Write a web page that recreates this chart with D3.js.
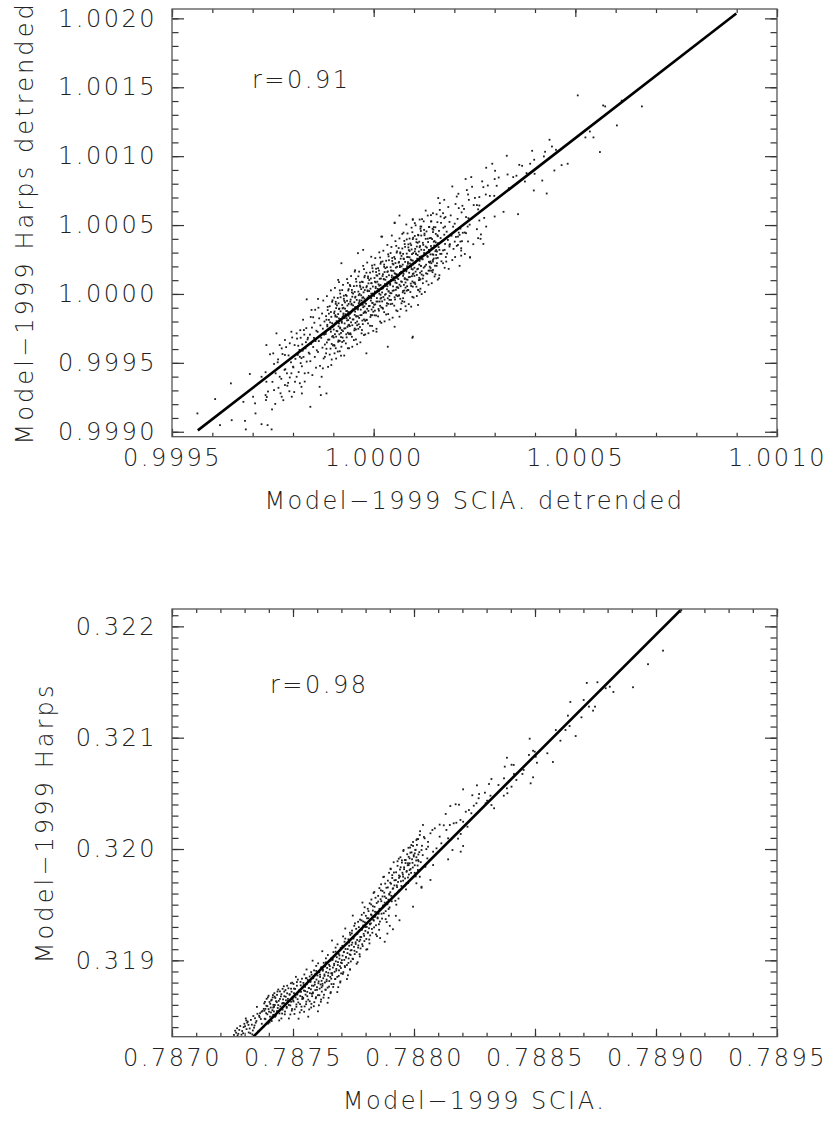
<!DOCTYPE html>
<html>
<head>
<meta charset="utf-8">
<script src="https://cdn.jsdelivr.net/npm/d3@7"></script>
<style>
  body { margin: 0; background: #fff; }
  svg text { font-family: "DejaVu Sans", sans-serif; font-weight: 200; font-size: 24px; fill: #222; letter-spacing: 2.5px; }
  svg text.ytitle { letter-spacing: 3.1px; }
</style>
</head>
<body>
<svg id="chart" width="829" height="1122"></svg>
<script>
// ---- upper panel: detrended ratios (SCIA. on x, Harps on y) ----
const detrendedPoints = [
  // sparse upper tail
  [1.000506,1.001441],[1.000569,1.001368],[1.000574,1.001361],[1.000615,1.001403],[1.000665,1.001361],[1.000603,1.001223],[1.000536,1.001179],[1.000525,1.001136],[1.000545,1.001136],[1.000561,1.00103],
  [1.000436,1.001119],[1.000442,1.00107],[1.000452,1.001046],[1.000393,1.001039],[1.000425,1.001032],[1.000422,1.000998],[1.00033,1.001003],[1.000398,1.000974],[1.000388,1.000945],[1.000361,1.000937],
  [1.000368,1.00093],[1.000481,1.000945],[1.000466,1.000935],[1.000448,1.000896],[1.000279,1.000916],[1.000301,1.000894],[1.000294,1.000945],[1.000399,1.000872],[1.000379,1.000877],[1.000354,1.000858],
  [1.000346,1.000848],[1.000332,1.000867],[1.00031,1.000845],[1.0003,1.000834],[1.000242,1.000848],[1.000228,1.000834],[1.000375,1.000816],[1.000418,1.000823],[1.000283,1.000787],[1.000305,1.000785],
  [1.000272,1.000775],[1.000335,1.000768],[1.000195,1.00078],[1.000397,1.000751],[1.000429,1.000729],[1.00021,1.000727],[1.000206,1.000707],[1.000234,1.000722],[1.000262,1.000703],[1.000288,1.000712],
  [1.000299,1.000712],[1.00016,1.000696],[1.000175,1.000683],[1.000164,1.000659],[1.000248,1.000645],[1.000256,1.000645],[1.00022,1.00064],[1.000211,1.000623],[1.000322,1.000596],[1.000358,1.000579],
  [1.0003,1.000562],[1.000129,1.000605],[1.000142,1.000572],[1.000147,1.000586],[1.000172,1.000586],[1.000175,1.00055],[1.000166,1.000562],[1.000064,1.000569],[1.000097,1.000543],[1.00012,1.000543],
  [1.000235,1.00055],[1.000262,1.000533],[1.000279,1.000489],[1.000052,1.000518],[1.000081,1.000504],[1.000102,1.000514],[1.000116,1.000489],[1.000125,1.000465],[1.000149,1.000485],[1.000177,1.000489],
  [1.000204,1.000465],[1.000233,1.000489],[1.000259,1.000405],[1.000272,1.000363],[1.000215,1.00038],[1.000226,1.000446],[1.000209,1.000416],[1.000021,1.000416],[1.000045,1.000424],[1.000071,1.000436],
  [1.000089,1.000402],[1.00011,1.000429],[1.000139,1.000405],[1.000159,1.000368],[1.000188,1.000356],[1.000217,1.000278],[1.000239,1.000264],[1.000176,1.00032],[1.000168,1.000291],[1.000143,1.000223],
  [1.000265,1.0004],[1.000239,1.000267],[1.000217,1.000332],[1.000209,1.000356],[1.000229,1.000441],[1.000213,1.000429],[1.00018,1.000235],[1.000172,1.000223],[1.000162,1.000114],[1.000147,1.000174],
  [1.000114,1.000017],[1.00011,0.99992],[1.000093,0.999908],[1.000081,0.999879],[1.000064,0.999835],[1.000096,0.999682],[1.000073,0.999969],[1.000069,0.999932],[1.000114,1.000102],[1.00013,1.00015],
  [1.000139,1.000198],[1.000122,1.000078],[1.000097,1.000053],[1.000085,1.000029],[1.000077,1.000005],[1.000147,1.000247],[1.000155,1.000283],[1.000163,1.00032],[1.000188,1.000344],[1.000201,1.00038],
  // lower-left tail
  [0.999563,0.999133],[0.999607,0.999237],[0.999619,0.999048],[0.999648,0.999084],[0.999646,0.999351],[0.999681,0.999079],[0.999693,0.999419],[0.999677,0.999217],[0.999706,0.999206],[0.999707,0.999133],
  [0.999722,0.999055],[0.999737,0.999048],[0.999747,0.999017],[0.999683,0.999017],[0.999701,0.999254],[0.999734,0.999363],[0.999722,0.999399],[0.999732,0.999266],[0.999733,0.99923],[0.999748,0.999162],
  [0.999753,0.999302],[0.999757,0.999424],[0.999734,0.999629],[0.999759,0.999714],[0.999751,0.999569],[0.999763,0.999525],[0.999772,0.999605],[0.99978,0.999666],[0.99978,0.999557],[0.999767,0.999399],
  [0.999772,0.999254],[0.99978,0.999339],[0.999788,0.999355],[0.999796,0.999424],[0.9998,0.999472],[0.999805,0.999363],[0.999792,0.999642],[0.999796,0.999726],[0.999809,0.999714],[0.999813,0.999624],
  [0.999819,0.999682],[0.999827,0.999738],[0.999817,0.999544],[0.999821,0.999326],[0.999822,0.999278],[0.999829,0.999424],[0.999843,0.999181],[0.999834,0.999961],[0.999846,0.999884],[0.99985,0.999831],
  [0.999862,0.999964],[0.999866,0.999326],[0.999871,0.999399],[0.999869,0.999266],[0.999883,0.999278],[0.999874,0.99946],[0.999879,0.999544],[0.999895,0.999484],[0.999903,0.999569],[0.99992,0.999617],
  [0.999912,1.000102],[0.99992,1.000223],[0.999961,1.000296],[0.999974,1.00032],[0.999953,1.000162],[0.999941,1.000065],[0.999982,0.999569],[0.99997,0.999714],[1.000007,0.999726],[1.000035,0.999617],
  [1.000052,0.999762],[1.000097,0.99969],[1.00011,1.000029],[1.000019,1.000416],[1.000052,1.000514],[1.000097,1.000538],[1.000118,1.000489],
  [0.999797,0.999254],[0.999786,0.999334],[0.999792,0.999394],[0.999781,0.999454],[0.999795,0.999504],[0.999789,0.999554],[0.999783,0.999614],[0.999798,0.999684],[0.999791,0.999294],[0.999785,0.999424],
  [0.999776,0.999229],[0.999764,0.999319],[0.999771,0.999384],[0.999779,0.999449],[0.999762,0.999504],[0.999774,0.999564],[0.999767,0.999629],[0.999769,0.999279],
  [0.999756,0.999202],[0.999738,0.999292],[0.999749,0.999362],[0.999732,0.999432],[0.999753,0.999492],[0.999743,0.999562],[0.999735,0.999252],
  // main cloud
  [0.999803,0.999288],[0.999817,0.999352],[0.999809,0.999399],[0.999814,0.999433],[0.999801,0.999467],[0.999819,0.999498],[0.999806,0.999529],[0.999812,0.999558],[0.999816,0.999594],[0.999804,0.999629],[0.99981,0.999676],[0.999818,0.999737],
  [0.999829,0.999364],[0.999838,0.999428],[0.999822,0.999475],[0.999834,0.999509],[0.999826,0.999543],[0.999839,0.999574],[0.999831,0.999605],[0.999823,0.999634],[0.999836,0.99967],[0.999828,0.999705],[0.999833,0.999752],[0.999825,0.999813],
  [0.999837,0.999682],[0.999824,0.999588],[0.999832,0.99965],[0.999821,0.999534],
  [0.999848,0.999411],[0.999857,0.999465],[0.999843,0.999512],[0.999854,0.999543],[0.999841,0.999566],[0.999859,0.999591],[0.99985,0.999615],[0.999845,0.999638],[0.999856,0.999658],[0.999852,0.999681],[0.999842,0.999705],[0.999858,0.999733],[0.999847,0.999756],[0.999853,0.999791],[0.999844,0.999833],[0.999855,0.999885],
  [0.999867,0.999478],[0.999876,0.999532],[0.999862,0.999579],[0.999873,0.99961],[0.999879,0.999633],[0.999864,0.999658],[0.99987,0.999682],[0.999877,0.999705],[0.999861,0.999725],[0.999874,0.999748],[0.999868,0.999772],[0.999878,0.9998],[0.999865,0.999823],[0.999872,0.999858],[0.999863,0.9999],[0.999875,0.999952],
  [0.999887,0.999471],[0.999896,0.999524],[0.999882,0.999569],[0.999893,0.999603],[0.999899,0.999627],[0.999884,0.999648],[0.99989,0.999669],[0.999897,0.99969],[0.999881,0.999709],[0.999894,0.999726],[0.999888,0.999742],[0.999898,0.999759],[0.999885,0.999776],[0.999892,0.999794],[0.999883,0.999813],[0.999895,0.999834],[0.999889,0.999857],[0.999886,0.999883],[0.999891,0.999911],[0.999897,0.999943],[0.999884,0.999984],[0.999894,1.000026],
  [0.999907,0.999531],[0.999916,0.999584],[0.999902,0.999629],[0.999913,0.999663],[0.999919,0.999687],[0.999904,0.999708],[0.99991,0.999729],[0.999917,0.99975],[0.999901,0.999769],[0.999914,0.999786],[0.999908,0.999802],[0.999918,0.999819],[0.999905,0.999836],[0.999912,0.999854],[0.999903,0.999873],[0.999915,0.999894],[0.999909,0.999917],[0.999906,0.999943],[0.999911,0.999971],[0.999917,1.000003],[0.999904,1.000044],[0.999914,1.000086],
  [0.999919,0.999552],[0.999906,0.999606],[0.999912,0.999653],[0.999901,0.999684],[0.999915,0.999707],[0.999908,0.999732],[0.999917,0.999756],[0.999903,0.999779],[0.99991,0.999799],[0.999914,0.999822],[0.999905,0.999846],[0.999918,0.999874],[0.999907,0.999897],[0.999913,0.999932],[0.999902,0.999974],[0.999916,1.000026],
  [0.999927,0.999553],[0.999936,0.999606],[0.999922,0.999651],[0.999933,0.999685],[0.999939,0.999709],[0.999924,0.99973],[0.99993,0.999751],[0.999937,0.999772],[0.999921,0.999791],[0.999934,0.999808],[0.999928,0.999824],[0.999938,0.999841],[0.999925,0.999858],[0.999932,0.999876],[0.999923,0.999895],[0.999935,0.999916],[0.999929,0.999939],[0.999926,0.999965],[0.999931,0.999993],[0.999937,1.000025],[0.999924,1.000066],[0.999934,1.000108],
  [0.999939,0.999606],[0.999926,0.99966],[0.999932,0.999707],[0.999921,0.999738],[0.999935,0.999761],[0.999928,0.999786],[0.999937,0.99981],[0.999923,0.999833],[0.99993,0.999853],[0.999934,0.999876],[0.999925,0.9999],[0.999938,0.999928],[0.999927,0.999951],[0.999933,0.999986],[0.999922,1.000028],[0.999936,1.00008],
  [0.999947,0.999617],[0.999956,0.99967],[0.999942,0.999715],[0.999953,0.999749],[0.999959,0.999773],[0.999944,0.999794],[0.99995,0.999815],[0.999957,0.999836],[0.999941,0.999855],[0.999954,0.999872],[0.999948,0.999888],[0.999958,0.999905],[0.999945,0.999922],[0.999952,0.99994],[0.999943,0.999959],[0.999955,0.99998],[0.999949,1.000003],[0.999946,1.000029],[0.999951,1.000057],[0.999957,1.000089],[0.999944,1.00013],[0.999954,1.000172],
  [0.999959,0.999635],[0.999946,0.999689],[0.999952,0.999736],[0.999941,0.999767],[0.999955,0.99979],[0.999948,0.999815],[0.999957,0.999839],[0.999943,0.999862],[0.99995,0.999882],[0.999954,0.999905],[0.999945,0.999929],[0.999958,0.999957],[0.999947,0.99998],[0.999953,1.000015],[0.999942,1.000057],[0.999956,1.000109],
  [0.999967,0.999649],[0.999976,0.999702],[0.999962,0.999747],[0.999973,0.999781],[0.999979,0.999805],[0.999964,0.999826],[0.99997,0.999847],[0.999977,0.999868],[0.999961,0.999887],[0.999974,0.999904],[0.999968,0.99992],[0.999978,0.999937],[0.999965,0.999954],[0.999972,0.999972],[0.999963,0.999991],[0.999975,1.000012],[0.999969,1.000035],[0.999966,1.000061],[0.999971,1.000089],[0.999977,1.000121],[0.999964,1.000162],[0.999974,1.000204],
  [0.999979,0.999706],[0.999966,0.99976],[0.999972,0.999807],[0.999961,0.999838],[0.999975,0.999861],[0.999968,0.999886],[0.999977,0.99991],[0.999963,0.999933],[0.99997,0.999953],[0.999974,0.999976],[0.999965,1.0],[0.999978,1.000028],[0.999967,1.000051],[0.999973,1.000086],[0.999962,1.000128],[0.999976,1.00018],
  [0.999987,0.999715],[0.999996,0.999768],[0.999982,0.999813],[0.999993,0.999847],[0.999999,0.999871],[0.999984,0.999892],[0.99999,0.999913],[0.999997,0.999934],[0.999981,0.999953],[0.999994,0.99997],[0.999988,0.999986],[0.999998,1.000003],[0.999985,1.00002],[0.999992,1.000038],[0.999983,1.000057],[0.999995,1.000078],[0.999989,1.000101],[0.999986,1.000127],[0.999991,1.000155],[0.999997,1.000187],[0.999984,1.000228],[0.999994,1.00027],
  [0.999999,0.999732],[0.999986,0.999786],[0.999992,0.999833],[0.999981,0.999864],[0.999995,0.999887],[0.999988,0.999912],[0.999997,0.999936],[0.999983,0.999959],[0.99999,0.999979],[0.999994,1.000002],[0.999985,1.000026],[0.999998,1.000054],[0.999987,1.000077],[0.999993,1.000112],[0.999982,1.000154],[0.999996,1.000206],
  [1.000007,0.999747],[1.000016,0.9998],[1.000002,0.999845],[1.000013,0.999879],[1.000019,0.999903],[1.000004,0.999924],[1.00001,0.999945],[1.000017,0.999966],[1.000001,0.999985],[1.000014,1.000002],[1.000008,1.000018],[1.000018,1.000035],[1.000005,1.000052],[1.000012,1.00007],[1.000003,1.000089],[1.000015,1.00011],[1.000009,1.000133],[1.000006,1.000159],[1.000011,1.000187],[1.000017,1.000219],[1.000004,1.00026],[1.000014,1.000302],
  [1.000019,0.99979],[1.000006,0.999844],[1.000012,0.999891],[1.000001,0.999922],[1.000015,0.999945],[1.000008,0.99997],[1.000017,0.999994],[1.000003,1.000017],[1.00001,1.000037],[1.000014,1.00006],[1.000005,1.000084],[1.000018,1.000112],[1.000007,1.000135],[1.000013,1.00017],[1.000002,1.000212],[1.000016,1.000264],
  [1.000027,0.999801],[1.000036,0.999854],[1.000022,0.999899],[1.000033,0.999933],[1.000039,0.999957],[1.000024,0.999978],[1.00003,0.999999],[1.000037,1.00002],[1.000021,1.000039],[1.000034,1.000056],[1.000028,1.000072],[1.000038,1.000089],[1.000025,1.000106],[1.000032,1.000124],[1.000023,1.000143],[1.000035,1.000164],[1.000029,1.000187],[1.000026,1.000213],[1.000031,1.000241],[1.000037,1.000273],[1.000024,1.000314],[1.000034,1.000356],
  [1.000039,0.999814],[1.000026,0.999868],[1.000032,0.999915],[1.000021,0.999946],[1.000035,0.999969],[1.000028,0.999994],[1.000037,1.000018],[1.000023,1.000041],[1.00003,1.000061],[1.000034,1.000084],[1.000025,1.000108],[1.000038,1.000136],[1.000027,1.000159],[1.000033,1.000194],[1.000022,1.000236],[1.000036,1.000288],
  [1.000047,0.999828],[1.000056,0.999881],[1.000042,0.999926],[1.000053,0.99996],[1.000059,0.999984],[1.000044,1.000005],[1.00005,1.000026],[1.000057,1.000047],[1.000041,1.000066],[1.000054,1.000083],[1.000048,1.000099],[1.000058,1.000116],[1.000045,1.000133],[1.000052,1.000151],[1.000043,1.00017],[1.000055,1.000191],[1.000049,1.000214],[1.000046,1.00024],[1.000051,1.000268],[1.000057,1.0003],[1.000044,1.000341],[1.000054,1.000383],
  [1.000059,0.999875],[1.000046,0.999929],[1.000052,0.999976],[1.000041,1.000007],[1.000055,1.00003],[1.000048,1.000055],[1.000057,1.000079],[1.000043,1.000102],[1.00005,1.000122],[1.000054,1.000145],[1.000045,1.000169],[1.000058,1.000197],[1.000047,1.00022],[1.000053,1.000255],[1.000042,1.000297],[1.000056,1.000349],
  [1.000067,0.99989],[1.000076,0.999943],[1.000062,0.999988],[1.000073,1.000022],[1.000079,1.000046],[1.000064,1.000067],[1.00007,1.000088],[1.000077,1.000109],[1.000061,1.000128],[1.000074,1.000145],[1.000068,1.000161],[1.000078,1.000178],[1.000065,1.000195],[1.000072,1.000213],[1.000063,1.000232],[1.000075,1.000253],[1.000069,1.000276],[1.000066,1.000302],[1.000071,1.00033],[1.000077,1.000362],[1.000064,1.000403],[1.000074,1.000445],
  [1.000079,0.999911],[1.000066,0.999965],[1.000072,1.000012],[1.000061,1.000043],[1.000075,1.000066],[1.000068,1.000091],[1.000077,1.000115],[1.000063,1.000138],[1.00007,1.000158],[1.000074,1.000181],[1.000065,1.000205],[1.000078,1.000233],[1.000067,1.000256],[1.000073,1.000291],[1.000062,1.000333],[1.000076,1.000385],
  [1.000087,0.999926],[1.000096,0.999979],[1.000082,1.000024],[1.000093,1.000058],[1.000099,1.000082],[1.000084,1.000103],[1.00009,1.000124],[1.000097,1.000145],[1.000081,1.000164],[1.000094,1.000181],[1.000088,1.000197],[1.000098,1.000214],[1.000085,1.000231],[1.000092,1.000249],[1.000083,1.000268],[1.000095,1.000289],[1.000089,1.000312],[1.000086,1.000338],[1.000091,1.000366],[1.000097,1.000398],[1.000084,1.000439],[1.000094,1.000481],
  [1.000099,0.999974],[1.000086,1.000028],[1.000092,1.000075],[1.000081,1.000106],[1.000095,1.000129],[1.000088,1.000154],[1.000097,1.000178],[1.000083,1.000201],[1.00009,1.000221],[1.000094,1.000244],[1.000085,1.000268],[1.000098,1.000296],[1.000087,1.000319],[1.000093,1.000354],[1.000082,1.000396],[1.000096,1.000448],
  [1.000107,0.999985],[1.000116,1.000038],[1.000102,1.000083],[1.000113,1.000117],[1.000119,1.000141],[1.000104,1.000162],[1.00011,1.000183],[1.000117,1.000204],[1.000101,1.000223],[1.000114,1.00024],[1.000108,1.000256],[1.000118,1.000273],[1.000105,1.00029],[1.000112,1.000308],[1.000103,1.000327],[1.000115,1.000348],[1.000109,1.000371],[1.000106,1.000397],[1.000111,1.000425],[1.000117,1.000457],[1.000104,1.000498],[1.000114,1.00054],
  [1.000119,0.999999],[1.000106,1.000053],[1.000112,1.0001],[1.000101,1.000131],[1.000115,1.000154],[1.000108,1.000179],[1.000117,1.000203],[1.000103,1.000226],[1.00011,1.000246],[1.000114,1.000269],[1.000105,1.000293],[1.000118,1.000321],[1.000107,1.000344],[1.000113,1.000379],[1.000102,1.000421],[1.000116,1.000473],
  [1.000127,1.000014],[1.000136,1.000067],[1.000122,1.000112],[1.000133,1.000146],[1.000139,1.00017],[1.000124,1.000191],[1.00013,1.000212],[1.000137,1.000233],[1.000121,1.000252],[1.000134,1.000269],[1.000128,1.000285],[1.000138,1.000302],[1.000125,1.000319],[1.000132,1.000337],[1.000123,1.000356],[1.000135,1.000377],[1.000129,1.0004],[1.000126,1.000426],[1.000131,1.000454],[1.000137,1.000486],[1.000124,1.000527],[1.000134,1.000569],
  [1.000159,1.000104],[1.000146,1.000158],[1.000152,1.000205],[1.000141,1.000236],[1.000155,1.000259],[1.000148,1.000284],[1.000157,1.000308],[1.000143,1.000331],[1.00015,1.000351],[1.000154,1.000374],[1.000145,1.000398],[1.000158,1.000426],[1.000147,1.000449],[1.000153,1.000484],[1.000142,1.000526],[1.000156,1.000578],
  [1.000144,1.000078],[1.000153,1.000142],[1.000141,1.000189],[1.000157,1.000223],[1.000149,1.000257],[1.000146,1.000288],[1.000155,1.000319],[1.000142,1.000348],[1.000151,1.000384],[1.000159,1.000419],[1.000148,1.000466],[1.000143,1.000527],
  [1.000163,1.000136],[1.000176,1.00019],[1.000168,1.000237],[1.000179,1.000268],[1.000165,1.000291],[1.000172,1.000316],[1.000161,1.00034],[1.000177,1.000363],[1.00017,1.000383],[1.000166,1.000406],[1.000175,1.00043],[1.000162,1.000458],[1.000173,1.000481],[1.000167,1.000516],[1.000178,1.000558],[1.000164,1.00061],
  [1.000186,1.000182],[1.000195,1.000246],[1.000182,1.000293],[1.000198,1.000327],[1.000189,1.000361],[1.000184,1.000392],[1.000193,1.000423],[1.000181,1.000452],[1.000197,1.000488],[1.000188,1.000523],[1.000191,1.00057],[1.000185,1.000631],
  [1.000213,1.000204],[1.000202,1.000268],[1.000217,1.000315],[1.000206,1.000349],[1.000219,1.000383],[1.000204,1.000414],[1.000211,1.000445],[1.000215,1.000474],[1.000201,1.00051],[1.000208,1.000545],[1.000218,1.000592],[1.000203,1.000653],
  [1.000226,1.00029],[1.000234,1.000381],[1.000221,1.000444],[1.000238,1.000503],[1.000229,1.000558],[1.000224,1.000617],[1.000236,1.000683],[1.000231,1.000754],
  [1.000247,1.000361],[1.000256,1.00047],[1.000242,1.000544],[1.000259,1.000614],[1.000251,1.000697],[1.000244,1.000778],
  [1.000266,1.000432],[1.000274,1.000552],[1.000262,1.000642],[1.000278,1.000722],[1.000269,1.000817],
  // core, second pass
  [0.999891,0.99956],[0.999883,0.999602],[0.999896,0.999637],[0.999887,0.999668],[0.999899,0.999695],[0.999881,0.99972],[0.999893,0.999743],[0.999885,0.999765],[0.999897,0.999788],[0.999889,0.999812],[0.999882,0.999839],[0.999894,0.999869],[0.999886,0.999906],[0.999898,0.999954],
  [0.999911,0.999582],[0.999903,0.999624],[0.999916,0.999659],[0.999907,0.99969],[0.999919,0.999717],[0.999901,0.999742],[0.999913,0.999765],[0.999905,0.999787],[0.999917,0.99981],[0.999909,0.999834],[0.999902,0.999861],[0.999914,0.999891],[0.999906,0.999928],[0.999918,0.999976],
  [0.999931,0.999641],[0.999923,0.999683],[0.999936,0.999718],[0.999927,0.999749],[0.999939,0.999776],[0.999921,0.999801],[0.999933,0.999824],[0.999925,0.999846],[0.999937,0.999869],[0.999929,0.999893],[0.999922,0.99992],[0.999934,0.99995],[0.999926,0.999987],[0.999938,1.000035],
  [0.999951,0.999665],[0.999943,0.999707],[0.999956,0.999742],[0.999947,0.999773],[0.999959,0.9998],[0.999941,0.999825],[0.999953,0.999848],[0.999945,0.99987],[0.999957,0.999893],[0.999949,0.999917],[0.999942,0.999944],[0.999954,0.999974],[0.999946,1.000011],[0.999958,1.000059],
  [0.999971,0.999738],[0.999963,0.99978],[0.999976,0.999815],[0.999967,0.999846],[0.999979,0.999873],[0.999961,0.999898],[0.999973,0.999921],[0.999965,0.999943],[0.999977,0.999966],[0.999969,0.99999],[0.999962,1.000017],[0.999974,1.000047],[0.999966,1.000084],[0.999978,1.000132],
  [0.999991,0.999769],[0.999983,0.999811],[0.999996,0.999846],[0.999987,0.999877],[0.999999,0.999904],[0.999981,0.999929],[0.999993,0.999952],[0.999985,0.999974],[0.999997,0.999997],[0.999989,1.000021],[0.999982,1.000048],[0.999994,1.000078],[0.999986,1.000115],[0.999998,1.000163],
  [1.000011,0.999837],[1.000003,0.999879],[1.000016,0.999914],[1.000007,0.999945],[1.000019,0.999972],[1.000001,0.999997],[1.000013,1.00002],[1.000005,1.000042],[1.000017,1.000065],[1.000009,1.000089],[1.000002,1.000116],[1.000014,1.000146],[1.000006,1.000183],[1.000018,1.000231],
  [1.000031,0.999851],[1.000023,0.999893],[1.000036,0.999928],[1.000027,0.999959],[1.000039,0.999986],[1.000021,1.000011],[1.000033,1.000034],[1.000025,1.000056],[1.000037,1.000079],[1.000029,1.000103],[1.000022,1.00013],[1.000034,1.00016],[1.000026,1.000197],[1.000038,1.000245],
  [1.000051,0.999915],[1.000043,0.999957],[1.000056,0.999992],[1.000047,1.000023],[1.000059,1.00005],[1.000041,1.000075],[1.000053,1.000098],[1.000045,1.00012],[1.000057,1.000143],[1.000049,1.000167],[1.000042,1.000194],[1.000054,1.000224],[1.000046,1.000261],[1.000058,1.000309],
  [1.000071,0.999948],[1.000063,0.99999],[1.000076,1.000025],[1.000067,1.000056],[1.000079,1.000083],[1.000061,1.000108],[1.000073,1.000131],[1.000065,1.000153],[1.000077,1.000176],[1.000069,1.0002],[1.000062,1.000227],[1.000074,1.000257],[1.000066,1.000294],[1.000078,1.000342],
  [1.000091,1.000014],[1.000083,1.000056],[1.000096,1.000091],[1.000087,1.000122],[1.000099,1.000149],[1.000081,1.000174],[1.000093,1.000197],[1.000085,1.000219],[1.000097,1.000242],[1.000089,1.000266],[1.000082,1.000293],[1.000094,1.000323],[1.000086,1.00036],[1.000098,1.000408],
  [1.000111,1.00003],[1.000103,1.000072],[1.000116,1.000107],[1.000107,1.000138],[1.000119,1.000165],[1.000101,1.00019],[1.000113,1.000213],[1.000105,1.000235],[1.000117,1.000258],[1.000109,1.000282],[1.000102,1.000309],[1.000114,1.000339],[1.000106,1.000376],[1.000118,1.000424],
  [1.000131,1.000092],[1.000123,1.000134],[1.000136,1.000169],[1.000127,1.0002],[1.000139,1.000227],[1.000121,1.000252],[1.000133,1.000275],[1.000125,1.000297],[1.000137,1.00032],[1.000129,1.000344],[1.000122,1.000371],[1.000134,1.000401],[1.000126,1.000438],[1.000138,1.000486],
  [1.000151,1.000127],[1.000143,1.000169],[1.000156,1.000204],[1.000147,1.000235],[1.000159,1.000262],[1.000141,1.000287],[1.000153,1.00031],[1.000145,1.000332],[1.000157,1.000355],[1.000149,1.000379],[1.000142,1.000406],[1.000154,1.000436],[1.000146,1.000473],[1.000158,1.000521]
];
const detrendedFit = [[0.999564, 0.99901], [1.000899, 1.002035]];
const detrendedXTicks = [0.9995, 1.0000, 1.0005, 1.0010];
const detrendedYTicks = [0.9990, 0.9995, 1.0000, 1.0005, 1.0010, 1.0015, 1.0020];

// ---- lower panel: raw ratios ----
const rawPoints = [
  [0.787265,0.31835],[0.787274,0.31834],[0.787282,0.31841],[0.78729,0.318365],[0.787296,0.3184],[0.787278,0.318375],[0.787269,0.31839],
  [0.787256,0.31833],[0.787261,0.318368],[0.787271,0.318325],[0.787287,0.318332],[0.787294,0.318345],[0.787299,0.31843],[0.787308,0.318382],[0.787316,0.31842],[0.787326,0.318465],[0.787332,0.318335],
  [0.787324,0.318345],[0.787302,0.318408],[0.787334,0.31837],[0.787311,0.31844],[0.787339,0.318395],[0.787307,0.31846],[0.787317,0.318352],[0.78733,0.318422],[0.787305,0.318478],[0.787321,0.318388],[0.787313,0.31845],[0.787336,0.3185],
  [0.787356,0.31836],[0.787371,0.31843],[0.787343,0.31848],[0.787364,0.318525],[0.787377,0.3184],[0.787349,0.318455],[0.78736,0.318502],[0.787374,0.318545],[0.787341,0.318415],[0.787367,0.318473],[0.787353,0.31852],[0.787379,0.318564],[0.787346,0.31844],[0.787362,0.31849],[0.78737,0.318538],[0.787351,0.318582],
  [0.787397,0.318432],[0.787412,0.318455],[0.787383,0.318476],[0.787405,0.318494],[0.787418,0.31851],[0.787389,0.318525],[0.787401,0.318539],[0.787415,0.318552],[0.787386,0.318564],[0.787408,0.318576],[0.787394,0.318588],[0.787419,0.3186],[0.787381,0.318613],[0.787403,0.318626],[0.78741,0.31864],[0.787391,0.318654],[0.787416,0.318667],[0.787399,0.318682],
  [0.787452,0.318478],[0.787429,0.318502],[0.787444,0.318523],[0.787421,0.318541],[0.787457,0.318557],[0.787437,0.318572],[0.787448,0.318586],[0.787425,0.318599],[0.787455,0.318612],[0.787433,0.318624],[0.787441,0.318636],[0.787459,0.318649],[0.787427,0.318662],[0.78745,0.318676],[0.787434,0.31869],[0.787423,0.318705],[0.787446,0.318721],[0.787439,0.318738],
  [0.787489,0.318514],[0.787467,0.31854],[0.787496,0.318563],[0.787474,0.318582],[0.787483,0.318599],[0.787461,0.318614],[0.787492,0.318628],[0.787471,0.318641],[0.787479,0.318654],[0.787498,0.318666],[0.787464,0.318678],[0.787486,0.318691],[0.787476,0.318704],[0.787494,0.318718],[0.787469,0.318733],[0.787481,0.318749],[0.787462,0.318767],[0.787491,0.318794],
  [0.787528,0.318532],[0.787507,0.31856],[0.787535,0.318584],[0.787514,0.318604],[0.787522,0.318622],[0.787501,0.318638],[0.787538,0.318653],[0.787511,0.318667],[0.78753,0.31868],[0.787518,0.318693],[0.787504,0.318705],[0.787533,0.318717],[0.787525,0.31873],[0.787509,0.318743],[0.787539,0.318757],[0.787516,0.318772],[0.787502,0.318788],[0.787531,0.318806],[0.78752,0.318827],[0.787512,0.318852],
  [0.787567,0.318559],[0.787548,0.318586],[0.787576,0.318609],[0.787555,0.318629],[0.787563,0.318647],[0.787542,0.318663],[0.787579,0.318678],[0.787552,0.318692],[0.78757,0.318705],[0.787559,0.318717],[0.787545,0.318729],[0.787574,0.31874],[0.787565,0.318751],[0.78755,0.318762],[0.787578,0.318773],[0.787557,0.318785],[0.787543,0.318797],[0.787572,0.31881],[0.787561,0.318824],[0.787553,0.318839],[0.787569,0.318855],[0.787547,0.318873],[0.787575,0.318894],[0.787556,0.318918],
  [0.787607,0.318596],[0.787588,0.318624],[0.787616,0.318648],[0.787595,0.318669],[0.787603,0.318687],[0.787582,0.318704],[0.787619,0.318719],[0.787592,0.318733],[0.78761,0.318746],[0.787599,0.318759],[0.787585,0.318771],[0.787614,0.318783],[0.787605,0.318794],[0.78759,0.318805],[0.787618,0.318816],[0.787597,0.318827],[0.787583,0.318839],[0.787612,0.318851],[0.787601,0.318864],[0.787593,0.318878],[0.787609,0.318893],[0.787587,0.31891],[0.787615,0.318929],[0.787596,0.31895],[0.787604,0.318973],[0.787581,0.318997],
  [0.787647,0.318663],[0.787628,0.318691],[0.787656,0.318715],[0.787635,0.318736],[0.787643,0.318755],[0.787622,0.318772],[0.787659,0.318787],[0.787632,0.318801],[0.78765,0.318814],[0.787639,0.318827],[0.787625,0.318839],[0.787654,0.318851],[0.787645,0.318862],[0.78763,0.318873],[0.787658,0.318884],[0.787637,0.318895],[0.787623,0.318907],[0.787652,0.318919],[0.787641,0.318932],[0.787633,0.318946],[0.787649,0.318961],[0.787627,0.318978],[0.787655,0.318997],[0.787636,0.319018],[0.787644,0.319048],[0.787621,0.319082],
  [0.787687,0.318759],[0.787668,0.318787],[0.787696,0.318811],[0.787675,0.318832],[0.787683,0.318851],[0.787662,0.318868],[0.787699,0.318883],[0.787672,0.318897],[0.78769,0.31891],[0.787679,0.318923],[0.787665,0.318935],[0.787694,0.318947],[0.787685,0.318958],[0.78767,0.318969],[0.787698,0.31898],[0.787677,0.318991],[0.787663,0.319003],[0.787692,0.319015],[0.787681,0.319028],[0.787673,0.319042],[0.787689,0.319057],[0.787667,0.319074],[0.787695,0.319093],[0.787676,0.319114],[0.787684,0.319144],[0.787661,0.319178],
  [0.787727,0.318866],[0.787708,0.318894],[0.787736,0.318918],[0.787715,0.318939],[0.787723,0.318958],[0.787702,0.318975],[0.787739,0.31899],[0.787712,0.319004],[0.78773,0.319017],[0.787719,0.31903],[0.787705,0.319042],[0.787734,0.319054],[0.787725,0.319065],[0.78771,0.319077],[0.787738,0.319089],[0.787717,0.319102],[0.787703,0.319116],[0.787732,0.319131],[0.787721,0.319148],[0.787713,0.319167],[0.787729,0.319189],[0.787707,0.319215],[0.787735,0.319248],[0.787716,0.319286],
  [0.787767,0.318983],[0.787748,0.319011],[0.787776,0.319035],[0.787755,0.319056],[0.787763,0.319075],[0.787742,0.319092],[0.787779,0.319107],[0.787752,0.319121],[0.78777,0.319134],[0.787759,0.319147],[0.787745,0.319159],[0.787774,0.319171],[0.787765,0.319183],[0.78775,0.319196],[0.787778,0.31921],[0.787757,0.319225],[0.787743,0.319242],[0.787772,0.319261],[0.787761,0.319283],[0.787753,0.31931],[0.787769,0.319346],[0.787747,0.319402],
  [0.787807,0.3191],[0.787788,0.319128],[0.787816,0.319152],[0.787795,0.319173],[0.787803,0.319192],[0.787782,0.319209],[0.787819,0.319224],[0.787792,0.319238],[0.78781,0.319251],[0.787799,0.319264],[0.787785,0.319276],[0.787814,0.319288],[0.787805,0.3193],[0.78779,0.319313],[0.787818,0.319327],[0.787797,0.319342],[0.787783,0.319359],[0.787812,0.319378],[0.787801,0.3194],[0.787793,0.319427],[0.787809,0.319463],[0.787787,0.319519],
  [0.787847,0.319217],[0.787828,0.319248],[0.787856,0.319274],[0.787835,0.319296],[0.787843,0.319315],[0.787822,0.319332],[0.787859,0.319348],[0.787832,0.319363],[0.78785,0.319377],[0.787839,0.319391],[0.787825,0.319404],[0.787854,0.319418],[0.787845,0.319432],[0.78783,0.319447],[0.787858,0.319463],[0.787837,0.319481],[0.787823,0.319502],[0.787852,0.319528],[0.787841,0.319562],[0.787833,0.319605],
  [0.787887,0.319344],[0.787868,0.319375],[0.787896,0.319401],[0.787875,0.319423],[0.787883,0.319442],[0.787862,0.319459],[0.787899,0.319475],[0.787872,0.31949],[0.78789,0.319504],[0.787879,0.319518],[0.787865,0.319531],[0.787894,0.319545],[0.787885,0.319559],[0.78787,0.319574],[0.787898,0.31959],[0.787877,0.319608],[0.787863,0.319629],[0.787892,0.319655],[0.787881,0.319689],[0.787873,0.319748],
  [0.787927,0.3195],[0.787908,0.31953],[0.787936,0.319555],[0.787915,0.319576],[0.787923,0.319595],[0.787902,0.319612],[0.787939,0.319628],[0.787912,0.319643],[0.78793,0.319658],[0.787919,0.319673],[0.787905,0.319688],[0.787934,0.319704],[0.787925,0.319721],[0.78791,0.31974],[0.787938,0.319762],[0.787917,0.319789],[0.787903,0.319824],[0.787932,0.31989],
  [0.787967,0.319637],[0.787948,0.319668],[0.787976,0.319694],[0.787955,0.319716],[0.787963,0.319736],[0.787942,0.319754],[0.787979,0.319771],[0.787952,0.319787],[0.78797,0.319803],[0.787959,0.319819],[0.787945,0.319836],[0.787974,0.319854],[0.787965,0.319874],[0.78795,0.319898],[0.787978,0.31993],[0.787957,0.319992],
  [0.788007,0.319754],[0.787988,0.319786],[0.788016,0.319812],[0.787995,0.319834],[0.788003,0.319854],[0.787982,0.319872],[0.788019,0.31989],[0.787992,0.319908],[0.78801,0.319926],[0.787999,0.319945],[0.787985,0.319967],[0.788006,0.319993],[0.787996,0.320028],[0.788013,0.32009],
  [0.788047,0.31984],[0.788028,0.319882],[0.788055,0.319916],[0.788036,0.319945],[0.788022,0.319972],[0.788051,0.319999],[0.788033,0.320029],[0.788058,0.320064],[0.788041,0.320108],[0.788025,0.32016],
  [0.787913,0.319279],[0.787879,0.319167],[0.787996,0.319482],[0.788031,0.319652],[0.78794,0.31936],[0.78786,0.3192],[0.7879,0.31931],[0.787925,0.3194],[0.78789,0.31924],
  // band, second pass
  [0.787403,0.318442],[0.787386,0.318471],[0.787415,0.318495],[0.787394,0.318515],[0.787409,0.318532],[0.787382,0.318547],[0.787399,0.318562],[0.787418,0.318576],[0.78739,0.318592],[0.787406,0.318609],[0.787384,0.318627],[0.787412,0.318646],[0.787396,0.318667],[0.787417,0.318688],
  [0.787443,0.31846],[0.787426,0.318493],[0.787455,0.318522],[0.787434,0.318544],[0.787449,0.318564],[0.787422,0.318582],[0.787439,0.318598],[0.787458,0.318615],[0.78743,0.318633],[0.787446,0.318653],[0.787424,0.318674],[0.787452,0.318696],[0.787436,0.31872],[0.787457,0.318744],
  [0.787483,0.318478],[0.787466,0.318515],[0.787495,0.318548],[0.787474,0.318573],[0.787489,0.318595],[0.787462,0.318616],[0.787479,0.318634],[0.787498,0.318653],[0.78747,0.318673],[0.787486,0.318696],[0.787464,0.318719],[0.787492,0.318745],[0.787476,0.318772],[0.787497,0.318799],
  [0.787523,0.318476],[0.787506,0.318518],[0.787535,0.318554],[0.787514,0.318583],[0.787529,0.318607],[0.787502,0.31863],[0.787519,0.318651],[0.787538,0.318672],[0.78751,0.318695],[0.787526,0.31872],[0.787504,0.318746],[0.787532,0.318775],[0.787516,0.318805],[0.787537,0.318835],
  [0.787563,0.318494],[0.787546,0.318538],[0.787575,0.318576],[0.787554,0.318606],[0.787569,0.318632],[0.787542,0.318656],[0.787559,0.318678],[0.787578,0.3187],[0.78755,0.318724],[0.787566,0.31875],[0.787544,0.318778],[0.787572,0.318808],[0.787556,0.31884],[0.787577,0.318872],
  [0.787603,0.318542],[0.787586,0.318588],[0.787615,0.318628],[0.787594,0.318659],[0.787609,0.318687],[0.787582,0.318712],[0.787599,0.318735],[0.787618,0.318758],[0.78759,0.318783],[0.787606,0.318811],[0.787584,0.31884],[0.787612,0.318871],[0.787596,0.318905],[0.787617,0.318939],
  [0.787643,0.318619],[0.787626,0.318665],[0.787655,0.318705],[0.787634,0.318736],[0.787649,0.318764],[0.787622,0.318789],[0.787639,0.318812],[0.787658,0.318835],[0.78763,0.31886],[0.787646,0.318888],[0.787624,0.318917],[0.787652,0.318948],[0.787636,0.318982],[0.787657,0.319016],
  [0.787683,0.318715],[0.787666,0.318761],[0.787695,0.318801],[0.787674,0.318832],[0.787689,0.31886],[0.787662,0.318885],[0.787679,0.318908],[0.787698,0.318931],[0.78767,0.318956],[0.787686,0.318984],[0.787664,0.319013],[0.787692,0.319044],[0.787676,0.319078],[0.787697,0.319112],
  [0.787723,0.318832],[0.787706,0.318878],[0.787735,0.318918],[0.787714,0.318949],[0.787729,0.318977],[0.787702,0.319002],[0.787719,0.319025],[0.787738,0.319048],[0.78771,0.319073],[0.787726,0.319101],[0.787704,0.31913],[0.787732,0.319161],[0.787716,0.319195],[0.787737,0.319229],
  [0.787763,0.318969],[0.787746,0.319015],[0.787775,0.319055],[0.787754,0.319086],[0.787769,0.319114],[0.787742,0.319139],[0.787759,0.319162],[0.787778,0.319185],[0.78775,0.31921],[0.787766,0.319238],[0.787744,0.319267],[0.787772,0.319298],[0.787756,0.319332],[0.787777,0.319366],
  [0.787803,0.319096],[0.787786,0.319145],[0.787815,0.319187],[0.787794,0.31922],[0.787809,0.319248],[0.787782,0.319275],[0.787799,0.319299],[0.787818,0.319323],[0.78779,0.319349],[0.787806,0.319378],[0.787784,0.319409],[0.787812,0.319442],[0.787796,0.319477],[0.787817,0.319512],
  [0.787843,0.319233],[0.787826,0.319282],[0.787855,0.319324],[0.787834,0.319357],[0.787849,0.319385],[0.787822,0.319412],[0.787839,0.319436],[0.787858,0.31946],[0.78783,0.319486],[0.787846,0.319515],[0.787824,0.319546],[0.787852,0.319579],[0.787836,0.319614],[0.787857,0.319649],
  [0.787883,0.31937],[0.787866,0.319419],[0.787895,0.319461],[0.787874,0.319494],[0.787889,0.319522],[0.787862,0.319549],[0.787879,0.319573],[0.787898,0.319597],[0.78787,0.319623],[0.787886,0.319652],[0.787864,0.319683],[0.787892,0.319716],[0.787876,0.319751],[0.787897,0.319786],
  [0.787923,0.319535],[0.787906,0.319579],[0.787935,0.319617],[0.787914,0.319647],[0.787929,0.319673],[0.787902,0.319697],[0.787919,0.319719],[0.787938,0.319741],[0.78791,0.319765],[0.787926,0.319791],[0.787904,0.319819],[0.787932,0.319849],[0.787916,0.319881],[0.787937,0.319913],
  [0.787963,0.319671],[0.787946,0.31971],[0.787975,0.319744],[0.787954,0.319771],[0.787969,0.319795],[0.787942,0.319816],[0.787959,0.319836],[0.787978,0.319856],[0.78795,0.319878],[0.787966,0.319901],[0.787944,0.319926],[0.787972,0.319953],[0.787956,0.319982],[0.787977,0.320011],
  [0.788003,0.319786],[0.787986,0.319821],[0.788015,0.319852],[0.787994,0.319876],[0.788009,0.319897],[0.787982,0.319916],[0.787999,0.319933],[0.788018,0.319951],[0.78799,0.31997],[0.788006,0.319991],[0.787984,0.320013],[0.788012,0.320037],[0.787996,0.320063],[0.788017,0.320089],
  // upper tail
  [0.789029,0.321782],[0.788967,0.32166],[0.788905,0.321453],[0.788824,0.321411],[0.788809,0.321458],[0.788792,0.321444],[0.788758,0.321498],[0.788714,0.321492],[0.788701,0.321339],[0.788646,0.321321],
  [0.788723,0.321279],[0.788748,0.321279],[0.78874,0.321243],[0.788692,0.321183],[0.788636,0.321198],[0.788643,0.321105],[0.788626,0.321069],[0.788586,0.321069],[0.788668,0.321015],[0.788605,0.320973],
  [0.788478,0.320991],[0.788492,0.320883],[0.788499,0.320874],[0.788574,0.320782],[0.788551,0.32086],[0.788508,0.320775],[0.788503,0.320829],[0.788475,0.320845],[0.788384,0.32082],[0.788375,0.32074],
  [0.788403,0.320757],[0.788412,0.320755],[0.788453,0.32071],[0.788448,0.320674],[0.788492,0.320644],[0.788482,0.32059],[0.788413,0.320674],[0.788423,0.32062],[0.788403,0.32056],[0.788384,0.320545],
  [0.788372,0.320635],[0.788349,0.320575],[0.78832,0.320629],[0.78831,0.320584],[0.788269,0.320494],[0.788241,0.320483],[0.788203,0.320536],[0.78826,0.320572],[0.788293,0.320506],[0.788316,0.320479],
  [0.788302,0.320434],[0.788296,0.320411],[0.788267,0.320456],[0.78832,0.320395],[0.788331,0.320366],[0.788371,0.320479],[0.788386,0.320501],[0.788247,0.320389],[0.788258,0.320411],[0.788227,0.32035],
  [0.788237,0.320321],[0.788214,0.320335],[0.788186,0.320398],[0.788172,0.320402],[0.78815,0.320386],[0.788131,0.320315],[0.788203,0.320245],[0.788192,0.320261],[0.788175,0.320236],[0.788164,0.320231],
  [0.788148,0.320216],[0.788123,0.320213],[0.788106,0.320219],[0.788086,0.320186],[0.788076,0.320171],[0.788068,0.320141],[0.788037,0.320216],[0.788024,0.320126],[0.78801,0.320081],[0.788044,0.320096],
  [0.788106,0.320111],[0.788141,0.320096],[0.788182,0.320093],[0.788134,0.320171],[0.788221,0.3202],[0.788193,0.320135],[0.788203,0.320027],[0.788193,0.319976],[0.788159,0.319991],[0.788141,0.319907],
  [0.788113,0.320051],[0.788093,0.320006],[0.788079,0.319976],[0.788058,0.320021],[0.788031,0.319991],[0.788003,0.319961],[0.787989,0.320036],[0.787962,0.319901],[0.787975,0.319872],[0.788017,0.319901],
  [0.788065,0.319901],[0.788079,0.319856],[0.788068,0.319722],[0.788024,0.319751],[0.78801,0.319692],[0.788031,0.319661],[0.787982,0.319811],[0.787955,0.319751],[0.787969,0.319692]
];
const rawFit = [[0.787336, 0.318314], [0.789106, 0.322156]];
const rawXTicks = [0.7870, 0.7875, 0.7880, 0.7885, 0.7890, 0.7895];
const rawYTicks = [0.319, 0.320, 0.321, 0.322];

const svg = d3.select("#chart");
const left = 172, right = 777;
const dot = 1.8;

const panels = [
  {
    id: "detr", points: detrendedPoints, fit: detrendedFit,
    xDomain: [0.9995, 1.0010], yDomain: [0.998964, 1.002068], top: 9, bottom: 436.7,
    xTicks: detrendedXTicks, yTicks: detrendedYTicks,
    xMinor: d3.range(16).map(i => 0.9995 + i * 0.0001),
    yMinor: d3.range(31).map(i => 0.9990 + i * 0.0001),
    xFmt: d3.format(".4f"), yFmt: d3.format(".4f"),
    xTitle: "Model\u22121999 SCIA. detrended", yTitle: "Model\u22121999 Harps detrended",
    yTitleX: 33, label: "r=0.91", labelPos: [252, 88]
  },
  {
    id: "raw", points: rawPoints, fit: rawFit,
    xDomain: [0.7870, 0.7895], yDomain: [0.318314, 0.322156], top: 609, bottom: 1036.7,
    xTicks: rawXTicks, yTicks: rawYTicks,
    xMinor: d3.range(26).map(i => 0.7870 + i * 0.0001),
    yMinor: d3.range(38).map(i => 0.3184 + i * 0.0001),
    xFmt: d3.format(".4f"), yFmt: d3.format(".3f"),
    xTitle: "Model\u22121999 SCIA.", yTitle: "Model\u22121999 Harps",
    yTitleX: 53, label: "r=0.98", labelPos: [270, 693]
  }
];

function styleAxis(g) {
  g.select(".domain").remove();
  g.attr("color", "#333").attr("font-family", null).attr("font-size", null);
  g.selectAll(".tick line").attr("stroke-width", 1.2);
}

panels.forEach(p => {
  const x = d3.scaleLinear().domain(p.xDomain).range([left, right]);
  const y = d3.scaleLinear().domain(p.yDomain).range([p.bottom, p.top]);
  const g = svg.append("g");

  g.append("clipPath").attr("id", "clip-" + p.id)
    .append("rect").attr("x", left).attr("y", p.top)
    .attr("width", right - left).attr("height", p.bottom - p.top);

  const plot = g.append("g").attr("clip-path", `url(#clip-${p.id})`);

  plot.selectAll("rect.pt")
    .data(p.points)
    .join("rect")
    .attr("class", "pt")
    .attr("x", d => x(d[0]) - dot / 2)
    .attr("y", d => y(d[1]) - dot / 2)
    .attr("width", dot)
    .attr("height", dot)
    .attr("fill", "#1c1c1c");

  plot.append("line")
    .attr("x1", x(p.fit[0][0])).attr("y1", y(p.fit[0][1]))
    .attr("x2", x(p.fit[1][0])).attr("y2", y(p.fit[1][1]))
    .attr("stroke", "#000").attr("stroke-width", 2.6);

  // left axis (labels) and right axis, ticks pointing inward
  g.append("g").attr("transform", `translate(${left},0)`)
    .call(d3.axisLeft(y).tickValues(p.yMinor).tickSize(-6.5).tickFormat(""))
    .call(styleAxis);
  g.append("g").attr("transform", `translate(${left},0)`)
    .call(d3.axisLeft(y).tickValues(p.yTicks).tickSize(-12).tickPadding(15).tickFormat(p.yFmt))
    .call(styleAxis);
  g.append("g").attr("transform", `translate(${right},0)`)
    .call(d3.axisLeft(y).tickValues(p.yMinor).tickSize(6.5).tickFormat(""))
    .call(styleAxis);
  g.append("g").attr("transform", `translate(${right},0)`)
    .call(d3.axisLeft(y).tickValues(p.yTicks).tickSize(12).tickFormat(""))
    .call(styleAxis);

  // bottom axis (labels) and top axis
  g.append("g").attr("transform", `translate(0,${p.bottom})`)
    .call(d3.axisBottom(x).tickValues(p.xMinor).tickSize(-4).tickFormat(""))
    .call(styleAxis);
  g.append("g").attr("transform", `translate(0,${p.bottom})`)
    .call(d3.axisBottom(x).tickValues(p.xTicks).tickSize(-8).tickPadding(12.5).tickFormat(p.xFmt))
    .call(styleAxis);
  g.append("g").attr("transform", `translate(0,${p.top})`)
    .call(d3.axisTop(x).tickValues(p.xMinor).tickSize(-4).tickFormat(""))
    .call(styleAxis);
  g.append("g").attr("transform", `translate(0,${p.top})`)
    .call(d3.axisTop(x).tickValues(p.xTicks).tickSize(-8).tickFormat(""))
    .call(styleAxis);

  // frame
  g.append("rect")
    .attr("x", left).attr("y", p.top)
    .attr("width", right - left).attr("height", p.bottom - p.top)
    .attr("fill", "none").attr("stroke", "#555").attr("stroke-width", 1.3);

  // titles
  g.append("text")
    .attr("x", (left + right) / 2).attr("y", p.bottom + 72.5)
    .attr("text-anchor", "middle")
    .text(p.xTitle);
  g.append("text")
    .attr("class", "ytitle")
    .attr("transform", `translate(${p.yTitleX},${(p.top + p.bottom) / 2}) rotate(-90)`)
    .attr("text-anchor", "middle")
    .text(p.yTitle);

  g.append("text")
    .attr("x", p.labelPos[0]).attr("y", p.labelPos[1])
    .text(p.label);
});
</script>
</body>
</html>
